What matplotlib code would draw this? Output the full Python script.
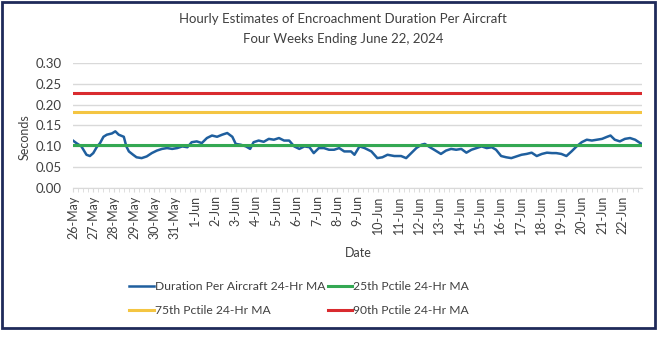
import numpy as np
import pandas as pd
import matplotlib
matplotlib.use("Agg")
import matplotlib.pyplot as plt
import matplotlib.dates as mdates
from matplotlib.patches import Rectangle

plt.rcParams['font.family'] = ['Lato', 'DejaVu Sans']

# hours since 26-May-2024 00:00 and the 24-hr moving average
hours = [0, 4, 10, 16, 20, 24, 28, 32, 36, 40,
         46, 50, 54, 60, 63, 66, 71, 75, 81, 87,
         93, 99, 105, 111, 117, 123, 129, 135, 140, 146,
         152, 158, 164, 170, 176, 182, 188, 192, 198, 204,
         209, 213, 219, 225, 231, 237, 243, 249, 255, 261,
         267, 273, 279, 284, 290, 296, 302, 308, 314, 320,
         328, 332, 338, 344, 352, 359, 365, 371, 379, 387,
         393, 399, 405, 411, 415, 421, 426, 434, 440, 446,
         452, 458, 464, 470, 476, 482, 488, 494, 499, 505,
         511, 517, 523, 529, 535, 541, 547, 553, 559, 565,
         570, 576, 582, 588, 594, 600, 606, 612, 618, 624,
         630, 634, 639, 645, 651, 657, 663, 669, 671]
duration = [0.114, 0.108, 0.100, 0.080, 0.077, 0.084, 0.098, 0.108, 0.123, 0.128,
            0.131, 0.136, 0.128, 0.123, 0.100, 0.088, 0.080, 0.074, 0.072, 0.076,
            0.084, 0.090, 0.094, 0.096, 0.094, 0.096, 0.100, 0.098, 0.110, 0.112,
            0.108, 0.120, 0.126, 0.123, 0.128, 0.132, 0.123, 0.106, 0.104, 0.100,
            0.094, 0.110, 0.114, 0.111, 0.118, 0.116, 0.120, 0.114, 0.114, 0.100,
            0.094, 0.100, 0.098, 0.084, 0.096, 0.096, 0.092, 0.092, 0.096, 0.088,
            0.088, 0.080, 0.100, 0.096, 0.088, 0.072, 0.074, 0.080, 0.077, 0.077,
            0.072, 0.084, 0.096, 0.104, 0.106, 0.098, 0.092, 0.082, 0.090, 0.094,
            0.092, 0.094, 0.085, 0.092, 0.096, 0.100, 0.096, 0.098, 0.092, 0.077,
            0.074, 0.072, 0.076, 0.080, 0.082, 0.085, 0.077, 0.082, 0.085, 0.084,
            0.084, 0.082, 0.077, 0.088, 0.100, 0.110, 0.116, 0.114, 0.116, 0.118,
            0.123, 0.126, 0.116, 0.112, 0.118, 0.120, 0.116, 0.108, 0.106]

p25 = 0.104
p75 = 0.1825
p90 = 0.227

start = pd.Timestamp("2024-05-26")
end = pd.Timestamp("2024-06-22 23:00")
times = start + pd.to_timedelta(hours, unit="h")
days = pd.date_range("2024-05-26", "2024-06-22", freq="D")
day_labels = [f"{d.day}-{d.strftime('%b')}" for d in days]

txt = "#404040"
grid = "#D9D9D9"

fig = plt.figure(figsize=(6.57, 3.41), dpi=100)
ax = fig.add_axes([0.111, 0.448, 0.866, 0.368])

ax.plot(times, duration, color="#1F5F9E", lw=1.8, zorder=3)
ax.plot([start, end], [p25, p25], color="#34A853", lw=2.2, zorder=4)
ax.plot([start, end], [p75, p75], color="#F4C542", lw=2.2, zorder=4)
ax.plot([start, end], [p90, p90], color="#D92B2F", lw=2.2, zorder=4)

ax.set_xlim(start, end)
ax.set_ylim(0, 0.30)
ax.set_yticks(np.arange(0, 0.301, 0.05))
ax.set_yticklabels([f"{v:.2f}" for v in np.arange(0, 0.301, 0.05)])
ax.set_xticks(days)
ax.set_xticklabels(day_labels, rotation=90)
ax.xaxis.set_minor_locator(mdates.HourLocator(byhour=[0, 6, 12, 18]))

ax.grid(axis="y", color=grid, lw=1)
ax.set_axisbelow(True)
for s in ["top", "right", "left"]:
    ax.spines[s].set_visible(False)
ax.spines["bottom"].set_color(grid)
ax.tick_params(axis="y", length=0, labelsize=9.5, colors=txt, pad=8)
ax.tick_params(axis="x", which="both", length=3, color=grid, labelsize=9, labelcolor=txt, pad=2)

ax.set_ylabel("Seconds", fontsize=9, color=txt, labelpad=6)
ax.yaxis.set_label_coords(-0.075, 0.41)
fig.text(0.545, 0.258, "Date", fontsize=9, color=txt, ha="center", va="center")

fig.text(0.522, 0.945, "Hourly Estimates of Encroachment Duration Per Aircraft",
         fontsize=9.5, color=txt, ha="center", va="center")
fig.text(0.522, 0.887, "Four Weeks Ending June 22, 2024",
         fontsize=9.5, color=txt, ha="center", va="center")

handles = ax.get_lines()
labels = ["Duration Per Aircraft 24-Hr MA", "25th Pctile 24-Hr MA",
          "75th Pctile 24-Hr MA", "90th Pctile 24-Hr MA"]
order = [0, 2, 1, 3]
leg = fig.legend([handles[i] for i in order], [labels[i] for i in order],
                 ncol=2, loc="upper left", bbox_to_anchor=(0.197, 0.175),
                 frameon=False, fontsize=8.7, handlelength=2.0, handletextpad=0.1,
                 columnspacing=0.2, labelspacing=1.05, borderpad=0, borderaxespad=0)
for t in leg.get_texts():
    t.set_color(txt)

fig.patches.append(Rectangle((0.003, 0.038), 0.994, 0.957, transform=fig.transFigure,
                             fill=False, edgecolor="#1F2A5A", lw=2))

fig.savefig("out.png", dpi=100)
